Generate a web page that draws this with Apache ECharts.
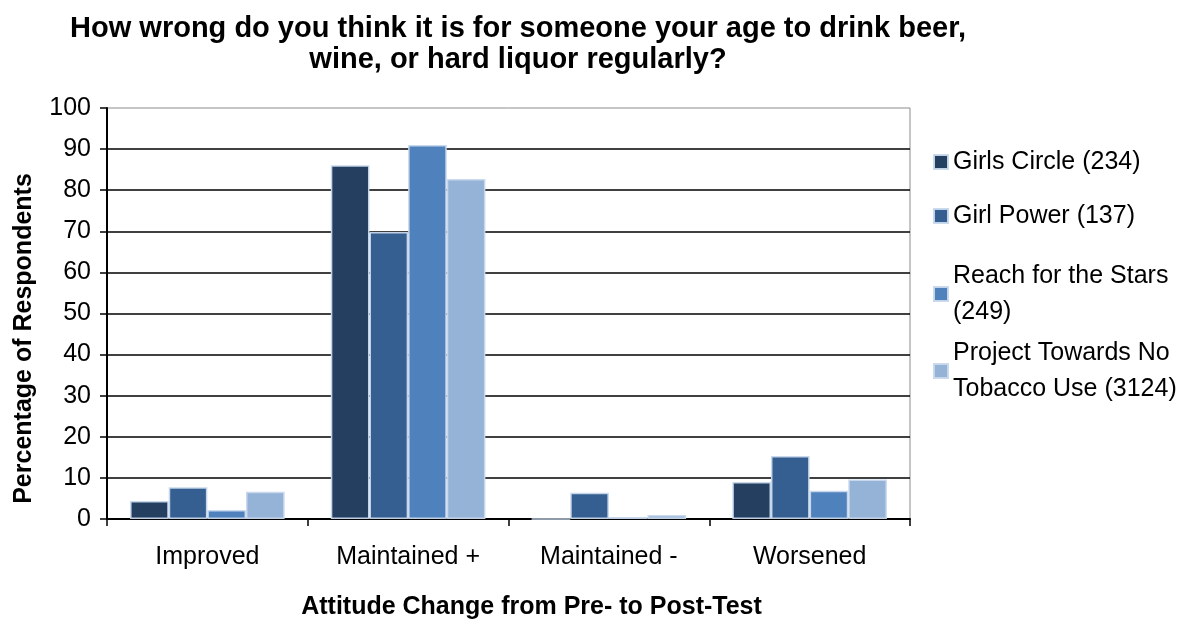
<!DOCTYPE html>
<html>
<head>
<meta charset="utf-8">
<script src="https://cdn.jsdelivr.net/npm/echarts@6/dist/echarts.min.js"></script>
<style>
  html, body { margin: 0; padding: 0; background: #fff; }
  #chart { width: 1193px; height: 622px; }
</style>
</head>
<body>
<div id="chart"></div>
<script>
// Attitude change categories and percentage of respondents per program
const categories = ['Improved', 'Maintained +', 'Maintained -', 'Worsened'];
const girlsCircle = [4.4, 86.1, 0, 9.0];
const girlPower = [7.7, 69.8, 6.4, 15.3];
const reachForTheStars = [2.2, 91.0, 0.5, 6.9];
const projectTowardsNoTobacco = [6.6, 82.7, 1.0, 9.6];
const seriesNames = [
  'Girls Circle (234)',
  'Girl Power (137)',
  'Reach for the Stars\n(249)',
  'Project Towards No\nTobacco Use (3124)'
];
const yTicks = [0, 10, 20, 30, 40, 50, 60, 70, 80, 90, 100];

const colors = ['#243F60', '#355E91', '#4F81BD', '#95B3D7'];
const font = '"Liberation Sans", Arial, sans-serif';

const chart = echarts.init(document.getElementById('chart'), null, { renderer: 'canvas' });

const seriesData = [girlsCircle, girlPower, reachForTheStars, projectTowardsNoTobacco];

// one legend block per series so the entries keep their own vertical spacing
const legendTops = [144, 198, 240, 317];
const legends = seriesNames.map((name, i) => ({
  data: [name],
  orient: 'vertical',
  left: 933,
  top: legendTops[i],
  padding: 0,
  itemWidth: 14,
  itemHeight: 14,
  icon: 'rect',
  selectedMode: false,
  textStyle: {
    fontFamily: font,
    fontSize: 25,
    color: '#000',
    lineHeight: 36,
    // keep the swatch level with the first line of a wrapped name
    padding: name.indexOf('\n') >= 0 ? [36, 0, 0, 0] : 0
  }
}));

chart.setOption({
  animation: false,
  backgroundColor: '#fff',
  color: colors,
  title: {
    text: 'How wrong do you think it is for someone your age to drink beer,\nwine, or hard liquor regularly?',
    left: 513,
    top: 8,
    textAlign: 'center',
    textStyle: {
      fontFamily: font,
      fontSize: 29,
      fontWeight: 'bold',
      color: '#000',
      lineHeight: 31
    }
  },
  legend: legends,
  grid: {
    left: 107,
    right: 283,
    top: 108,
    bottom: 103,
    outerBoundsMode: 'none',
    show: true,
    borderColor: '#8c8c8c',
    borderWidth: 1
  },
  xAxis: {
    type: 'category',
    data: categories,
    name: 'Attitude Change from Pre- to Post-Test',
    nameLocation: 'middle',
    nameGap: 76,
    nameTextStyle: {
      fontFamily: font, fontSize: 25, fontWeight: 'bold', color: '#000',
      padding: [0, 0, 0, 46]
    },
    axisLine: { lineStyle: { color: '#000', width: 2 } },
    axisTick: { show: true, alignWithLabel: false, length: 7, lineStyle: { color: '#000', width: 1.5 } },
    axisLabel: { fontFamily: font, fontSize: 25, color: '#000', margin: 26 },
    splitLine: { show: false }
  },
  yAxis: {
    type: 'value',
    min: 0,
    max: 100,
    interval: 10,
    name: 'Percentage of Respondents',
    nameLocation: 'middle',
    nameGap: 70,
    nameTextStyle: {
      fontFamily: font, fontSize: 25, fontWeight: 'bold', color: '#000',
      padding: [0, 50, 0, 0]
    },
    axisLine: { show: true, lineStyle: { color: '#000', width: 2 } },
    axisTick: { show: true, length: 7, lineStyle: { color: '#000', width: 1.5 } },
    axisLabel: {
      fontFamily: font, fontSize: 25, color: '#000', margin: 16,
      formatter: v => (yTicks.indexOf(v) >= 0 ? String(v) : '')
    },
    splitLine: { show: true, showMaxLine: false, lineStyle: { color: '#000', width: 1.5 } }
  },
  series: seriesNames.map((name, i) => ({
    name: name,
    type: 'bar',
    data: seriesData[i],
    barGap: '0%',
    barCategoryGap: '23%',
    itemStyle: {
      color: colors[i],
      borderColor: 'rgba(200,216,236,0.95)',
      borderWidth: 1.5
    }
  }))
});
</script>
</body>
</html>
